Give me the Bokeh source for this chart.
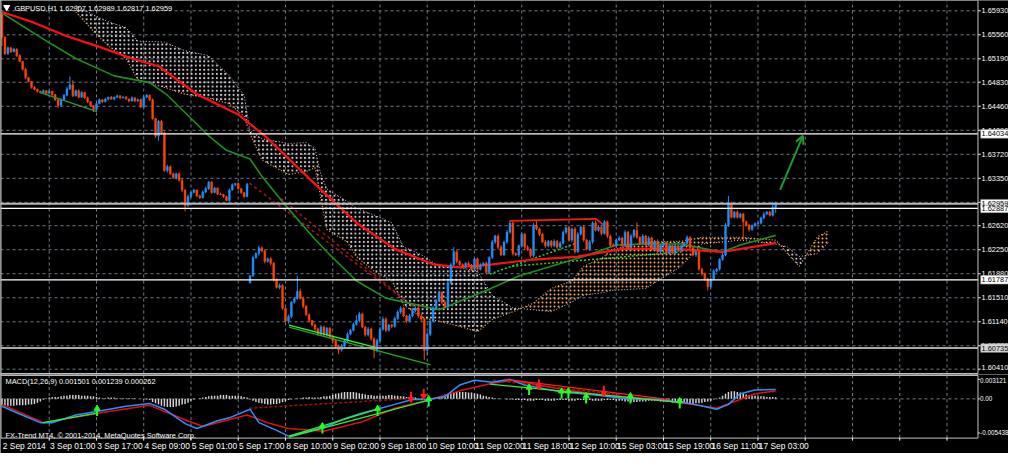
import numpy as np
from bokeh.plotting import figure
from bokeh.layouts import column
from bokeh.models import Range1d, Arrow, OpenHead
from bokeh.core.properties import value
from bokeh.embed import file_html
from bokeh.resources import INLINE

# ---------------- data ----------------
symbol_title = "GBPUSD,H1  1.62907 1.62989 1.62817 1.62959"
macd_title = "MACD(12,26,9) 0.001501 0.001239 0.000262"
copyright_text = "FX-Trend MT4, \u00a9 2001-2014, MetaQuotes Software Corp."

first_open = 1.6587
gap_bar = 84
gap_open = 1.6174

close = [
    1.6552, 1.6527, 1.6536, 1.6530, 1.6534, 1.6524, 1.6515, 1.6503, 1.6490, 1.6484,
    1.6475, 1.6472, 1.6469, 1.6467, 1.6470, 1.6466, 1.6469, 1.6464, 1.6456, 1.6447,
    1.6456, 1.6463, 1.6473, 1.6479, 1.6462, 1.6470, 1.6460, 1.6467, 1.6459, 1.6453,
    1.6447, 1.6441, 1.6450, 1.6456, 1.6453, 1.6457, 1.6460, 1.6457, 1.6460, 1.6462,
    1.6459, 1.6460, 1.6457, 1.6454, 1.6459, 1.6454, 1.6456, 1.6445, 1.6460, 1.6463,
    1.6456, 1.6427, 1.6400, 1.6423, 1.6405, 1.6347, 1.6353, 1.6342, 1.6336, 1.6342,
    1.6332, 1.6317, 1.6293, 1.6307, 1.6313, 1.6317, 1.6308, 1.6305, 1.6314, 1.6319,
    1.6329, 1.6313, 1.6320, 1.6311, 1.6310, 1.6307, 1.6301, 1.6317, 1.6325, 1.6327,
    1.6319, 1.6313, 1.6307, 1.6326, 1.6185, 1.6213, 1.6219, 1.6228, 1.6223, 1.6207,
    1.6211, 1.6204, 1.6179, 1.6167, 1.6170, 1.6135, 1.6115, 1.6122, 1.6144, 1.6150,
    1.6161, 1.6150, 1.6138, 1.6125, 1.6116, 1.6109, 1.6103, 1.6095, 1.6106, 1.6094,
    1.6104, 1.6091, 1.6085, 1.6076, 1.6071, 1.6077, 1.6085, 1.6095, 1.6101, 1.6110,
    1.6116, 1.6126, 1.6106, 1.6094, 1.6103, 1.6088, 1.6070, 1.6085, 1.6103, 1.6118,
    1.6101, 1.6109, 1.6107, 1.6119, 1.6129, 1.6135, 1.6123, 1.6115, 1.6123, 1.6131,
    1.6135, 1.6123, 1.6118, 1.6070, 1.6095, 1.6115, 1.6135, 1.6147, 1.6159, 1.6144,
    1.6137, 1.6174, 1.6202, 1.6222, 1.6207, 1.6202, 1.6199, 1.6204, 1.6201, 1.6195,
    1.6211, 1.6195, 1.6201, 1.6204, 1.6190, 1.6213, 1.6237, 1.6246, 1.6229, 1.6217,
    1.6237, 1.6252, 1.6266, 1.6219, 1.6217, 1.6231, 1.6249, 1.6229, 1.6225, 1.6216,
    1.6263, 1.6257, 1.6249, 1.6237, 1.6231, 1.6238, 1.6231, 1.6238, 1.6229, 1.6235,
    1.6252, 1.6259, 1.6240, 1.6257, 1.6222, 1.6249, 1.6260, 1.6240, 1.6226, 1.6237,
    1.6266, 1.6255, 1.6260, 1.6250, 1.6268, 1.6246, 1.6232, 1.6231, 1.6240, 1.6243,
    1.6231, 1.6252, 1.6228, 1.6246, 1.6255, 1.6244, 1.6235, 1.6246, 1.6232, 1.6243,
    1.6226, 1.6238, 1.6222, 1.6232, 1.6235, 1.6220, 1.6231, 1.6220, 1.6231, 1.6225,
    1.6231, 1.6235, 1.6244, 1.6228, 1.6217, 1.6222, 1.6195, 1.6188, 1.6180, 1.6168,
    1.6180, 1.6192, 1.6195, 1.6210, 1.6217, 1.6263, 1.6296, 1.6275, 1.6283, 1.6275,
    1.6280, 1.6268, 1.6263, 1.6256, 1.6262, 1.6265, 1.6266, 1.6274, 1.6280, 1.6283,
    1.6278, 1.6290, 1.62959,
]

upper_wick_pips = [
    4, 2, 2, 1, 2, 1, 2, 1, 2, 1,
    1, 2, 1, 1, 2, 1, 2, 1, 1, 2,
    2, 2, 3, 13, 7, 2, 2, 2, 1, 2,
    1, 1, 2, 2, 1, 2, 1, 2, 1, 2,
    1, 2, 2, 1, 2, 1, 2, 2, 3, 2,
    1, 2, 1, 2, 2, 2, 3, 2, 2, 2,
    2, 2, 1, 3, 2, 2, 1, 2, 2, 3,
    2, 2, 2, 1, 2, 1, 1, 2, 2, 1,
    2, 1, 1, 2, 1, 3, 2, 3, 2, 2,
    2, 3, 2, 2, 3, 2, 1, 3, 2, 2,
    24, 4, 3, 2, 2, 1, 2, 2, 3, 2,
    2, 2, 2, 2, 3, 3, 2, 3, 2, 3,
    8, 3, 2, 2, 3, 2, 2, 3, 3, 4,
    3, 2, 2, 3, 3, 3, 2, 2, 3, 4,
    3, 5, 3, 2, 3, 3, 3, 2, 3, 2,
    3, 4, 3, 7, 2, 2, 2, 2, 3, 2,
    2, 2, 3, 2, 3, 2, 3, 2, 3, 3,
    2, 3, 3, 3, 2, 2, 3, 2, 3, 2,
    3, 7, 2, 2, 3, 2, 2, 3, 2, 3,
    3, 2, 3, 2, 3, 3, 2, 3, 2, 3,
    3, 4, 3, 2, 3, 2, 2, 3, 2, 3,
    2, 3, 2, 3, 2, 12, 2, 3, 2, 3,
    2, 2, 3, 2, 2, 2, 2, 2, 3, 2,
    2, 2, 3, 2, 2, 2, 2, 2, 2, 2,
    2, 3, 2, 2, 3, 3, 12, 3, 2, 3,
    2, 2, 2, 2, 2, 2, 2, 2, 3, 2,
    2, 9, 3,
]

lower_wick_pips = [
    13, 2, 2, 2, 1, 2, 1, 2, 2, 1,
    2, 1, 2, 1, 1, 2, 1, 2, 2, 4,
    2, 1, 2, 2, 2, 1, 2, 1, 2, 2,
    2, 4, 2, 1, 2, 1, 2, 1, 2, 1,
    2, 1, 1, 2, 1, 2, 1, 2, 2, 1,
    2, 2, 3, 7, 3, 2, 3, 2, 2, 3,
    2, 3, 9, 2, 2, 1, 2, 2, 1, 2,
    2, 2, 1, 2, 1, 2, 1, 2, 1, 2,
    1, 2, 2, 1, 1, 2, 2, 3, 2, 3,
    2, 3, 3, 2, 3, 3, 2, 4, 3, 2,
    2, 2, 3, 2, 3, 2, 3, 2, 3, 2,
    3, 2, 3, 3, 7, 3, 2, 3, 2, 2,
    2, 3, 2, 3, 3, 3, 12, 3, 2, 3,
    3, 2, 3, 2, 2, 3, 2, 3, 2, 2,
    2, 3, 3, 15, 7, 3, 2, 2, 2, 3,
    3, 3, 2, 2, 3, 2, 2, 3, 2, 3,
    2, 3, 2, 2, 3, 2, 2, 3, 3, 2,
    2, 3, 2, 3, 2, 3, 2, 3, 2, 3,
    3, 2, 3, 2, 3, 2, 3, 2, 3, 2,
    2, 3, 2, 3, 3, 2, 2, 3, 2, 3,
    3, 2, 2, 3, 2, 3, 3, 2, 3, 2,
    3, 2, 3, 2, 3, 2, 3, 2, 3, 2,
    3, 2, 3, 2, 3, 2, 3, 2, 3, 2,
    3, 2, 2, 3, 2, 3, 2, 3, 3, 6,
    3, 2, 2, 2, 2, 2, 3, 2, 2, 2,
    2, 27, 2, 3, 2, 2, 2, 2, 2, 2,
    2, 2, 8,
]

red_ma_idx = [0, 10, 22, 33, 44, 53, 66, 80, 89, 106, 120, 133, 146, 155, 166, 180, 195, 210, 228, 244, 262]
red_ma = [1.65911, 1.65762, 1.65538, 1.65375, 1.65196, 1.65077, 1.64645, 1.64333, 1.64005, 1.63261,
          1.62665, 1.62263, 1.62025, 1.61980, 1.62025, 1.62099, 1.62144, 1.62263, 1.62263, 1.62218, 1.62352]

green_ma_idx = [0, 14, 25, 38, 50, 56, 70, 76, 84, 88, 96, 102, 106, 110, 120, 130, 142, 148, 156, 164,
                175, 186, 197, 208, 217, 230, 240, 244, 250, 262]
green_ma = [1.65896, 1.65494, 1.65196, 1.64928, 1.64824, 1.64630, 1.64005, 1.63782, 1.63648, 1.63380,
            1.62933, 1.62620, 1.62412, 1.62218, 1.61772, 1.61504, 1.61385, 1.61325, 1.61474, 1.61623,
            1.61846, 1.61995, 1.62144, 1.62323, 1.62338, 1.62338, 1.62248, 1.62218, 1.62323, 1.62471]

cloud_idx = [25, 31, 36, 42, 46, 55, 62, 70, 77, 82, 84, 88, 97, 103, 106, 108, 110, 117, 120, 126,
             132, 136, 142, 148, 156, 161, 166, 173, 180, 186, 193, 197, 204, 206, 218, 230, 237, 250,
             262, 266, 270, 276, 280]
span_a = [1.65911, 1.65613, 1.65390, 1.65196, 1.64869, 1.64749, 1.64645, 1.64586, 1.64496, 1.64303,
          1.64035, 1.63633, 1.63409, 1.63454, 1.63514, 1.63037, 1.62561, 1.62367, 1.62144, 1.61921,
          1.61772, 1.61400, 1.61206, 1.61147, 1.61057, 1.60983, 1.61176, 1.61295, 1.61429, 1.61653,
          1.61772, 1.61995, 1.62144, 1.62248, 1.62367, 1.62382, 1.62442, 1.62442, 1.62397, 1.62189,
          1.61995, 1.62442, 1.62546]
span_b = [1.66015, 1.65866, 1.65762, 1.65672, 1.65464, 1.65449, 1.65315, 1.65241, 1.64928, 1.64630,
          1.64080, 1.63960, 1.63886, 1.63901, 1.63811, 1.63409, 1.63186, 1.62993, 1.62888, 1.62784,
          1.62665, 1.62293, 1.62174, 1.61995, 1.61965, 1.61921, 1.61549, 1.61355, 1.61325, 1.61295,
          1.61444, 1.61549, 1.61593, 1.61623, 1.61653, 1.61995, 1.62338, 1.62397, 1.62338, 1.62293,
          1.62144, 1.62189, 1.62367]

price_ticks = [1.65930, 1.65560, 1.65190, 1.64830, 1.64460, 1.64090, 1.63720, 1.63350,
               1.62980, 1.62620, 1.62250, 1.61880, 1.61510, 1.61140, 1.60770, 1.60410]
price_tick_labels = ["1.65930", "1.65560", "1.65190", "1.64830", "1.64460", "1.64090", "1.63720", "1.63350",
                     "1.62980", "1.62620", "1.62250", "1.61880", "1.61510", "1.61140", "1.60770", "1.60410"]

level_prices = [1.64034, 1.62959, 1.62887, 1.61787, 1.60735]
level_labels = ["1.64034", "1.62959", "1.62887", "1.61787", "1.60735"]
level_colors = ["#ffffff", "#b8b8b8", "#ffffff", "#ffffff", "#a8a8a8"]

date_idx = [0, 16, 32, 48, 64, 80, 96, 112, 128, 144, 160, 176, 192, 208, 224, 240, 256]
date_labels = ["2 Sep 2014", "3 Sep 01:00", "3 Sep 17:00", "4 Sep 09:00", "5 Sep 01:00", "5 Sep 17:00",
               "8 Sep 10:00", "9 Sep 02:00", "9 Sep 18:00", "10 Sep 10:00", "11 Sep 02:00",
               "11 Sep 18:00", "12 Sep 10:00", "15 Sep 03:00", "15 Sep 19:00", "16 Sep 11:00",
               "17 Sep 03:00"]
future_grid_idx = [272, 288, 304, 320]

# trend objects (bar index, price)
trend_green = [(12.8, 1.64675, 32.2, 1.64377)]
trend_lime = [(97.2, 1.61087, 127.8, 1.60730)]
trend_dkgreen = [(97.2, 1.61057, 145.2, 1.60477)]
trend_red = [(171.8, 1.62695, 201.2, 1.62725), (201.2, 1.62725, 203.5, 1.62635)]
trend_dkred = [(83.8, 1.63275, 137.2, 1.61444), (94.5, 1.63037, 141.8, 1.61281)]
trend_dotted = [(165.2, 1.61876, 193.8, 1.62338), (172.8, 1.61995, 230.5, 1.62218)]
target_arrow = (263.5, 1.63171, 271.2, 1.64005)

# MACD window
hist_e4 = (
    [-10, -10, -11, -11, -11, -10, -10, -10, -10, -9, -9, -8]
    + [-6, -4, -1]
    + [1, 2, 3, 3, 3, 4]
    + [5, 5, 6, 6, 6, 6, 5, 5, 5, 4, 4, 3, 2]
    + [1, 1, 2, 2, 2, 1, 1, 1, 1, 1, 1, 1, 0, 0, -1, -1]
    + [-2, -5, -7, -9, -11, -12, -13, -13, -13, -12, -11, -9, -8, -6]
    + [-3, -1, 0, 1, 2]
    + [3, 4, 5, 5, 5, 6, 6, 6, 5, 5, 5, 5, 4, 3, 2]
    + [-1, -3, -5, -6, -7, -8, -9, -9, -8, -8, -7, -5, -4, -2]
    + [-1, 0, 1, 1, 2, 2, 3, 2, 2, 2, 3]
    + [4, 4, 5, 6, 8, 9, 10, 11, 11, 11, 11, 10, 9, 8, 7, 6, 6, 5]
    + [5, 5, 5, 5, 6, 6, 5, 5, 4, 4, 3, 3, 2, 2, 1, 1, 0]
    + [-1, 0, 1, 3, 4, 5, 7, 8]
    + [9, 10, 11, 11, 11, 11, 10, 10, 9, 8, 7, 5, 4, 3, 2]
    + [1, 1, 0, 0, -1, -1, -1, -2, -2, -2, -2, -3, -3, -3, -2, -2, -2, -3, -3, -3,
       -3, -2, -2, -2, -2, -3, -3, -3, -2, -2, -2, -2, -2, -3, -3, -3, -3, -2, -2, -2,
       -2, -3, -3, -3]
    + [-4, -4, -5, -5, -5, -4, -4, -4, -3, -3, -3, -3, -4, -4, -5]
    + [-5, -6, -6, -7, -7, -7, -8, -8, -8, -7, -7, -6, -5, -4, -3, -1, 0, 2]
    + [5, 8, 11, 12, 12, 11, 10, 8, 7]
    + [6, 5, 5, 4, 4, 4, 3, 3, 3, 2.62]
)

macd_idx = [0, 6, 13, 17, 25, 33, 42, 50, 55, 62, 66, 73, 77, 84, 87, 93, 97, 109, 116, 122, 127, 133,
            139, 144, 150, 155, 160, 166, 172, 177, 189, 200, 211, 222, 233, 242, 246, 250, 255, 262]
macd_main = [-0.00118, -0.00241, -0.00380, -0.00380, -0.00257, -0.00195, -0.00118, -0.00072, -0.00165,
             -0.00395, -0.00472, -0.00349, -0.00303, -0.00165, -0.00380, -0.00503, -0.00595, -0.00457,
             -0.00318, -0.00226, -0.00165, -0.00088, -0.00011, -0.00011, 0.00035, 0.00220, 0.00297,
             0.00266, 0.00312, 0.00220, 0.00112, 0.00066, 0.00005, -0.00011, -0.00072, -0.00165,
             -0.00088, 0.00082, 0.00143, 0.001501]
signal_idx = [0, 14, 33, 50, 62, 68, 83, 90, 97, 109, 122, 133, 144, 155, 166, 173, 189, 200, 211, 222,
              231, 242, 250, 255, 262]
signal_line = [-0.00088, -0.00380, -0.00226, -0.00103, -0.00334, -0.00441, -0.00257, -0.00380, -0.00472,
               -0.00518, -0.00365, -0.00149, -0.00026, 0.00128, 0.00251, 0.00297, 0.00158, 0.00082,
               0.00035, -0.00011, -0.00072, -0.00149, -0.00011, 0.00082, 0.001239]

macd_ticks = [0.003121, 0.0, -0.005438]
macd_tick_labels = ["0.003121", "0.00", "-0.005438"]

buy_idx = [32.2, 108.5, 127.2, 144.5, 178.5, 189.5, 191.8, 197.8, 212.8, 229.5]
buy_val = [-0.00195, -0.00472, -0.00195, -0.00042, 0.00143, 0.00082, 0.00082, 0.00005, 0.00005, -0.00072]
sell_idx = [138.5, 142.8, 181.8, 203.8]
sell_val = [0.00035, 0.00082, 0.00235, 0.00128]

macd_trend_lime = [(13.8, -0.00380, 32.2, -0.00226), (97.2, -0.00611, 145.2, -0.00011),
                   (97.2, -0.00595, 127.2, -0.00165), (165.2, 0.00235, 229.5, -0.00057)]
macd_trend_red = [(170.5, 0.00312, 226.2, -0.00011)]
macd_trend_dkred = [(83.8, -0.00149, 138.5, 0.00005), (166.2, 0.00297, 209.5, 0.00066)]

assert len(close) == 263 and len(upper_wick_pips) == 263 and len(lower_wick_pips) == 263
assert len(hist_e4) == 263

# ---------------- styling / geometry ----------------
FONT = value("Liberation Sans")
GRID = "#6f7d8c"
BORDER = "#c4c4c4"
BULL = "#1e90ff"
BEAR = "#ff4500"
X0, X1 = -0.5, 340.83
FR = 330.5          # right edge of chart panes
LB = -0.33          # left border
P_TOP, P_BOT = 1.66089, 1.60328
PANE_BOT = 1.60343
M_TOP, M_BOT = 0.00389, -0.00872
MP_TOP, MP_BOT = 0.00374, -0.00626


def seg(fig, segs, color, width=1, dash="solid", alpha=1.0):
    fig.segment(x0=[s[0] for s in segs], y0=[s[1] for s in segs],
                x1=[s[2] for s in segs], y1=[s[3] for s in segs],
                line_color=color, line_width=width, line_dash=dash, line_alpha=alpha)


def base_fig(h, y0, y1):
    f = figure(width=1008, height=h, x_range=Range1d(X0, X1), y_range=Range1d(y0, y1),
               x_axis_type=None, y_axis_type=None, tools="", toolbar_location=None,
               output_backend="svg", background_fill_color="black", border_fill_color="black",
               min_border=0, min_border_left=0, min_border_right=0, min_border_top=0,
               min_border_bottom=0, outline_line_color=None)
    return f


# ---------------- main price pane ----------------
p = base_fig(374, P_BOT, P_TOP)

n = len(close)
idx = np.arange(n)
c = np.array(close)
o = np.empty(n)
o[0] = first_open
o[1:] = c[:-1]
o[gap_bar] = gap_open
hi = np.maximum(o, c) + np.array(upper_wick_pips) * 1e-4
lo = np.minimum(o, c) - np.array(lower_wick_pips) * 1e-4
cols = [BULL if cc >= oo else BEAR for oo, cc in zip(o, c)]

# grid
all_grid = [d for d in date_idx[1:]] + future_grid_idx
p.segment(x0=[X0] * len(price_ticks), y0=price_ticks, x1=[FR] * len(price_ticks), y1=price_ticks,
          line_color=GRID, line_dash="3 3", line_width=1)
p.segment(x0=all_grid, y0=[PANE_BOT] * len(all_grid), x1=all_grid, y1=[P_TOP] * len(all_grid),
          line_color=GRID, line_dash="3 3", line_width=1)

# ichimoku cloud (insert crossing points so the two colours split cleanly)
cx, ca, cb = [cloud_idx[0]], [span_a[0]], [span_b[0]]
for k in range(1, len(cloud_idx)):
    d0 = span_a[k - 1] - span_b[k - 1]
    d1 = span_a[k] - span_b[k]
    if d0 * d1 < 0:
        t = d0 / (d0 - d1)
        xc = cloud_idx[k - 1] + t * (cloud_idx[k] - cloud_idx[k - 1])
        yc = span_a[k - 1] + t * (span_a[k] - span_a[k - 1])
        cx.append(xc); ca.append(yc); cb.append(yc)
    cx.append(cloud_idx[k]); ca.append(span_a[k]); cb.append(span_b[k])
cx, ca, cb = np.array(cx), np.array(ca), np.array(cb)
top = np.maximum(ca, cb)
p.varea(x=cx, y1=ca, y2=top, fill_alpha=0.0, hatch_pattern="dot", hatch_color="#ece2ec",
        hatch_scale=4.2, hatch_weight=1.5, hatch_alpha=0.9)
p.varea(x=cx, y1=cb, y2=top, fill_alpha=0.0, hatch_pattern="dot", hatch_color="#f5aa60",
        hatch_scale=4.0, hatch_weight=1.9, hatch_alpha=1.0)
p.line(cloud_idx, span_a, line_color="#f4a460", line_dash="1 2", line_width=1.2)
p.line(cloud_idx, span_b, line_color="#d8bfd8", line_dash="1 2", line_width=1)

# trend objects behind candles
seg(p, trend_dkred, "#b01818", 1.4, "3 3")
seg(p, trend_dotted, "#2ecc2e", 1.5, "2 2")

# moving averages
p.line(green_ma_idx, green_ma, line_color="#1f8f1f", line_width=1.6)
p.line(red_ma_idx, red_ma, line_color="#ff1010", line_width=2.2)

# candles
p.segment(x0=idx, y0=lo, x1=idx, y1=hi, line_color=cols, line_width=1)
p.vbar(x=idx, width=0.62, top=np.maximum(o, c), bottom=np.minimum(o, c),
       fill_color=cols, line_color=cols, line_width=0.5)

seg(p, trend_green, "#2aa02a", 1.3)
seg(p, trend_dkgreen, "#22aa22", 1.3)
seg(p, trend_lime, "#3cf03c", 1.3)
seg(p, trend_red, "#ff1a1a", 1.6)

# horizontal levels
p.segment(x0=[X0] * len(level_prices), y0=level_prices, x1=[FR] * len(level_prices), y1=level_prices,
          line_color=level_colors, line_width=[1.2, 2, 1.2, 1.2, 2])

# target arrow
ax0, ay0, ax1, ay1 = target_arrow
p.add_layout(Arrow(x_start=ax0, y_start=ay0, x_end=ax1, y_end=ay1, line_color="#1f9a2f", line_width=2,
                   end=OpenHead(size=8, line_color="#1f9a2f", line_width=2)))

# right price scale
p.quad(left=[FR], right=[X1], top=[P_TOP], bottom=[P_BOT], fill_color="black", line_color=None)
p.segment(x0=[FR] * len(price_ticks), y0=price_ticks, x1=[FR + 0.9] * len(price_ticks), y1=price_ticks,
          line_color="white", line_width=1)
label_y = list(price_ticks)
label_y[-1] = price_ticks[-1] + 0.00022   # keep the lowest label inside the pane
p.text(x=[FR + 1.2] * len(price_ticks), y=label_y, text=price_tick_labels, text_font=FONT,
       text_font_size="7.4px", text_color="white", text_baseline="middle", text_align="left")
hh = 0.00066
p.quad(left=[FR + 0.9] * len(level_prices), right=[X1] * len(level_prices),
       top=[v + hh for v in level_prices], bottom=[v - hh for v in level_prices],
       fill_color=["white", "white", "white", "white", "#d8d8d8"], line_color="#909090", line_width=0.5)
p.text(x=[FR + 1.2] * len(level_prices), y=level_prices, text=level_labels, text_font=FONT,
       text_font_size="7.4px", text_color="black", text_baseline="middle", text_align="left")

# borders
p.segment(x0=[FR, LB, X0], y0=[PANE_BOT, PANE_BOT, PANE_BOT], x1=[FR, LB, FR], y1=[P_TOP, P_TOP, PANE_BOT],
          line_color=BORDER, line_width=1)

# title
p.scatter(x=[1.6], y=[1.65985], marker="inverted_triangle", size=6, fill_color="white", line_color="white")
p.text(x=[4.2], y=[1.65968], text=[symbol_title], text_font=FONT, text_font_size="7.4px",
       text_color="white", text_baseline="middle", text_align="left")

# ---------------- MACD pane ----------------
q = base_fig(79, M_BOT, M_TOP)
q.segment(x0=all_grid, y0=[MP_BOT] * len(all_grid), x1=all_grid, y1=[MP_TOP] * len(all_grid),
          line_color=GRID, line_dash="3 3", line_width=1)
q.segment(x0=[X0], y0=[0.0], x1=[FR], y1=[0.0], line_color=GRID, line_dash="3 3", line_width=1)

hv = np.array(hist_e4) * 1e-4
q.vbar(x=idx, width=0.5, top=hv, bottom=0.0, fill_color="#d4d4d4", line_color=None)

seg(q, macd_trend_dkred, "#a01010", 1.5, "3 2")
q.line(signal_idx, signal_line, line_color="#e01010", line_width=1.5)
q.line(macd_idx, macd_main, line_color="#2f8fff", line_width=1.5)
seg(q, macd_trend_red, "#ff2020", 1.3)
seg(q, macd_trend_lime, "#30f030", 1.3)

bv = np.array(buy_val)
sv = np.array(sell_val)
q.segment(x0=buy_idx, y0=bv + 0.0003, x1=buy_idx, y1=bv - 0.0008, line_color="#20ff20", line_width=2)
q.scatter(x=buy_idx, y=bv + 0.0004, marker="triangle", size=6, fill_color="#20ff20", line_color="#20ff20")
q.segment(x0=sell_idx, y0=sv - 0.0003, x1=sell_idx, y1=sv + 0.0008, line_color="#ff1a1a", line_width=2)
q.scatter(x=sell_idx, y=sv - 0.0004, marker="inverted_triangle", size=6, fill_color="#ff1a1a",
          line_color="#ff1a1a")

# right scale of MACD
q.quad(left=[FR], right=[X1], top=[M_TOP], bottom=[M_BOT], fill_color="black", line_color=None)
q.segment(x0=[FR] * 3, y0=macd_ticks, x1=[FR + 0.6] * 3, y1=macd_ticks, line_color="white")
macd_label_y = [macd_ticks[0] - 0.00025, macd_ticks[1], macd_ticks[2]]
q.text(x=[FR + 0.7] * 3, y=macd_label_y, text=macd_tick_labels, text_font=FONT, text_font_size="6.3px",
       text_color="white", text_baseline="middle", text_align="left")

# borders
q.segment(x0=[FR, LB, X0, X0], y0=[MP_BOT, MP_BOT, MP_BOT, MP_TOP], x1=[FR, LB, FR, FR],
          y1=[MP_TOP, MP_TOP, MP_BOT, MP_TOP], line_color=BORDER, line_width=1)

# texts
q.text(x=[1.2], y=[0.00277], text=[macd_title], text_font=FONT, text_font_size="7.4px",
       text_color="white", text_baseline="middle", text_align="left")
q.text(x=[1.2], y=[-0.0058], text=[copyright_text], text_font=FONT, text_font_size="7.4px",
       text_color="white", text_baseline="middle", text_align="left")

# time scale
q.segment(x0=date_idx[1:] + future_grid_idx, y0=[MP_BOT] * (len(date_idx) - 1 + len(future_grid_idx)),
          x1=date_idx[1:] + future_grid_idx, y1=[MP_BOT - 0.0004] * (len(date_idx) - 1 + len(future_grid_idx)),
          line_color="white")
q.text(x=[d + 0.3 for d in date_idx], y=[-0.00755] * len(date_idx), text=date_labels, text_font=FONT,
       text_font_size="8.4px", text_color="white", text_baseline="middle", text_align="left")

layout = column(p, q, spacing=0)
open("out.html", "w").write(file_html(layout, INLINE))
